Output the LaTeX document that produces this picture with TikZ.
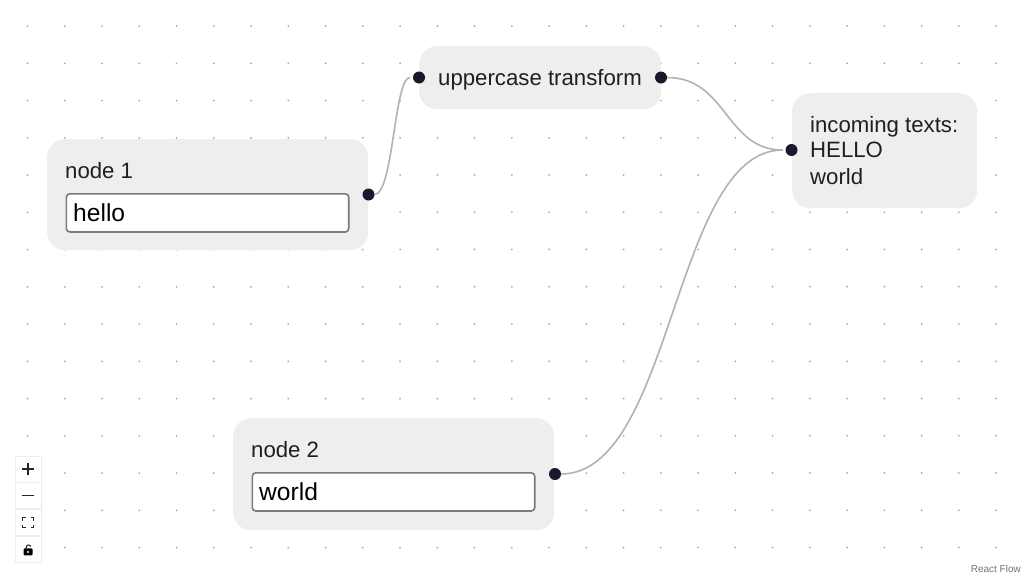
\documentclass[tikz,border=0pt]{standalone}
\usepackage{fontspec}
\setmainfont{Liberation Sans}
\usetikzlibrary{positioning}
\definecolor{cardgray}{HTML}{EEEEEE}
\definecolor{portdark}{HTML}{1A192B}
\definecolor{wiregray}{HTML}{B1B1B7}
\definecolor{griddot}{HTML}{A8A8A8}
\tikzset{
  card/.style={fill=cardgray,rounded corners=18pt,anchor=north west,inner sep=0pt},
  inputbox/.style={draw=black!52,line width=1.6pt,fill=white,rounded corners=3.5pt,anchor=north west,inner sep=0pt},
  port/.style={circle,fill=portdark,minimum size=12pt,inner sep=0pt,outer sep=0pt},
  wire/.style={draw=wiregray,line width=1.6pt},
  label/.style={anchor=base west,inner sep=0pt,text=black!88,font=\fontsize{22.2}{26}\selectfont},
  value/.style={anchor=base west,inner sep=0pt,text=black,font=\fontsize{24.6}{28}\selectfont},
  ctrlbtn/.style={draw=black!7,fill=white,minimum width=26pt,minimum height=26pt,inner sep=0pt,line width=.8pt},
  icon/.style={draw=black!85,line width=1.5pt}
}
\begin{document}
\begin{tikzpicture}[x=1pt,y=-1pt]
\useasboundingbox[fill=white] (0,0) rectangle (1024,576);

% background dots
\foreach \i in {0,...,26}
  \foreach \j in {0,...,14}
    \fill[griddot] (27.5+37.25*\i,26+37.25*\j) circle (1);

% cards
\node[card,minimum width=321pt,minimum height=111pt] (node1) at (47,139) {};
\node[card,minimum width=242pt,minimum height=63pt] (transform) at (419,46) {};
\node[card,minimum width=185pt,minimum height=115pt] (result) at (792,93) {};
\node[card,minimum width=321pt,minimum height=112pt] (node2) at (233,418) {};

% inputs
\node[inputbox,minimum width=282.4pt,minimum height=38.2pt] (input1) at (65.5,193) {};
\node[inputbox,minimum width=282.4pt,minimum height=38.2pt] (input2) at (251.5,472) {};

% texts
\node[label] (title1) at (65,178) {node 1};
\node[value] (hello) at (73,221) {hello};
\node[label] (title2) at (251,457) {node 2};
\node[value] (world) at (259,500) {world};
\node[label] (upper) at (438,85) {uppercase transform};
\node[label] (line1) at (810,132) {incoming texts:};
\node[label] (line2) at (810,157.5) {HELLO};
\node[label] (line3) at (810,184) {world};

% ports
\node[port] (out1) at (368.5,194.5) {};
\node[port] (upin) at (419,77.5) {};
\node[port] (upout) at (661,77.5) {};
\node[port] (resin) at (791.5,150) {};
\node[port] (out2) at (555,474) {};

% edges
\draw[wire,shorten >=3pt] (out1.east) to[out=0,in=180,out distance=19pt,in distance=19pt] (upin.west);
\draw[wire,shorten >=3pt] (upout.east) to[out=0,in=180,out distance=60pt,in distance=60pt] (resin.west);
\draw[wire,shorten >=3pt] (out2.east) to[out=0,in=180,out distance=112pt,in distance=112pt] (resin.west);

% controls
\node[ctrlbtn] (zoomin) at (28,469) {};
\node[ctrlbtn,below=0pt of zoomin] (zoomout) {};
\node[ctrlbtn,below=0pt of zoomout] (fitview) {};
\node[ctrlbtn,below=0pt of fitview] (lockbtn) {};
\draw[icon] ([xshift=-6pt]zoomin.center) -- ([xshift=6pt]zoomin.center);
\draw[icon] ([yshift=-6pt]zoomin.center) -- ([yshift=6pt]zoomin.center);
\draw[icon,line width=1.2pt] ([xshift=-6pt]zoomout.center) -- ([xshift=6pt]zoomout.center);
\foreach \sx/\sy in {-1/-1,1/-1,1/1,-1/1}
  \draw[icon,line width=1.3pt] ([xshift=\sx*5.5pt,yshift=\sy*2pt]fitview.center) -- ([xshift=\sx*5.5pt,yshift=\sy*5pt]fitview.center) -- ([xshift=\sx*2.5pt,yshift=\sy*5pt]fitview.center);
\fill[black,rounded corners=1pt] ([shift={(-4.5pt,-6pt)}]lockbtn.center) rectangle ([shift={(4.5pt,1pt)}]lockbtn.center);
\draw[icon,line width=1.1pt] ([shift={(-2pt,0pt)}]lockbtn.center) .. controls ([shift={(-2pt,4pt)}]lockbtn.center) and ([shift={(0pt,6pt)}]lockbtn.center) .. ([shift={(3pt,3pt)}]lockbtn.center);
\fill[white] ([yshift=-2.5pt]lockbtn.center) circle (1.1);

% attribution
\node[anchor=base east,inner sep=0pt,text=black!55,font=\fontsize{10}{12}\selectfont] (attribution) at (1021,572) {React Flow};
\end{tikzpicture}
\end{document}
